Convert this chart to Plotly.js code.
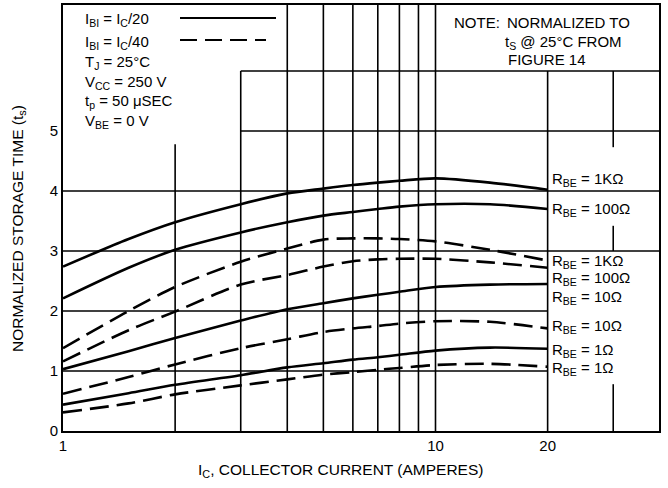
<!DOCTYPE html>
<html><head><meta charset="utf-8">
<script src="https://cdn.plot.ly/plotly-3.0.1.min.js"></script>
<style>body{margin:0;background:#fff}</style>
</head><body><div id="chart" style="width:668px;height:488px"></div>
<script>
// Collector current (A)
const currentA = [1, 1.5, 2, 3, 4, 5, 6, 7, 8, 10, 14, 20];
// Normalized storage time, IB1 = IC/20 (solid)
const ts_ib20_1k  = [2.74, 3.20, 3.48, 3.78, 3.96, 4.04, 4.10, 4.14, 4.17, 4.21, 4.14, 4.02];
const ts_ib20_100 = [2.21, 2.72, 3.02, 3.31, 3.48, 3.59, 3.65, 3.70, 3.74, 3.78, 3.78, 3.70];
const ts_ib20_10  = [1.03, 1.33, 1.55, 1.84, 2.03, 2.13, 2.21, 2.27, 2.32, 2.40, 2.44, 2.45];
const ts_ib20_1   = [0.44, 0.63, 0.77, 0.93, 1.06, 1.13, 1.19, 1.23, 1.27, 1.34, 1.39, 1.37];
// Normalized storage time, IB1 = IC/40 (dashed)
const ts_ib40_1k  = [1.38, 2.00, 2.40, 2.82, 3.04, 3.19, 3.21, 3.21, 3.20, 3.16, 3.02, 2.84];
const ts_ib40_100 = [1.16, 1.68, 1.99, 2.44, 2.60, 2.74, 2.83, 2.86, 2.87, 2.87, 2.81, 2.72];
const ts_ib40_10  = [0.62, 0.90, 1.11, 1.38, 1.53, 1.65, 1.71, 1.75, 1.79, 1.83, 1.82, 1.71];
const ts_ib40_1   = [0.31, 0.46, 0.61, 0.76, 0.86, 0.94, 0.98, 1.02, 1.05, 1.10, 1.12, 1.07];

const xTickVals = [1, 10, 20];
const xTickText = ['1', '10', '20'];
const yTickVals = [0, 1, 2, 3, 4, 5];
const yTickText = ['0', '1', '2', '3', '4', '5'];

const FONT = 'Liberation Sans, Arial, sans-serif';
const L = 63, R = 9, T = 5, B = 57, W = 668, H = 488;
const PW = W - L - R, PH = H - T - B;
const px = v => (v - L) / PW;
const py = v => (H - B - v) / PH;

const solid = {color: '#000', width: 2.6, shape: 'spline', smoothing: 0.8};
const dashed = {color: '#000', width: 2.6, shape: 'spline', smoothing: 0.8, dash: '19px,8px'};
const series = [
  [ts_ib20_1k, solid], [ts_ib20_100, solid], [ts_ib20_10, solid], [ts_ib20_1, solid],
  [ts_ib40_1k, dashed], [ts_ib40_100, dashed], [ts_ib40_10, dashed], [ts_ib40_1, dashed]
];
const traces = series.map(([y, line]) => ({
  x: currentA, y: y, type: 'scatter', mode: 'lines', line: line,
  showlegend: false, hoverinfo: 'skip'
}));

const gl = {color: '#000', width: 1.6};
const shapes = [];
function vline(x, y0, y1) { shapes.push({type: 'line', xref: 'x', yref: 'y', x0: x, x1: x, y0: y0, y1: y1, line: gl, layer: 'below'}); }
function hline(y, x0, x1) { shapes.push({type: 'line', xref: 'x', yref: 'y', x0: x0, x1: x1, y0: y, y1: y, line: gl, layer: 'below'}); }
vline(2, 0, 4.78);
vline(3, 0, 6);
[4, 5, 6, 7, 8, 9, 10].forEach(v => vline(v, 0, 7.1));
vline(20, 0, 6);
vline(30, 0, 0.78); vline(30, 3, 3.42); vline(30, 4.73, 6);
hline(1, 1, 20); hline(2, 1, 20);
hline(3, 1, 40); hline(4, 1, 40);
hline(5, 3, 40); hline(6, 3, 40);
// legend sample lines
shapes.push({type: 'line', xref: 'paper', yref: 'paper', x0: px(180), x1: px(276), y0: py(18), y1: py(18), line: {color: '#000', width: 1.8}});
shapes.push({type: 'line', xref: 'paper', yref: 'paper', x0: px(180), x1: px(266), y0: py(40), y1: py(40), line: {color: '#000', width: 1.8, dash: '17px,8px'}});

const tf = {family: FONT, size: 15, color: '#000'};
function ann(text, x, y, extra) {
  return Object.assign({xref: 'paper', yref: 'paper', x: px(x), y: py(y), text: text, showarrow: false,
    xanchor: 'left', yanchor: 'middle', font: tf}, extra || {});
}
const titleFont = {family: FONT, size: 15.5, color: '#000'};
const annotations = [
  ann('I<sub>BI</sub> = I<sub>C</sub>/20', 83, 20),
  ann('I<sub>BI</sub> = I<sub>C</sub>/40', 83, 42),
  ann('T<sub>J</sub> = 25°C', 83, 62),
  ann('V<sub>CC</sub> = 250 V', 83, 82),
  ann('t<sub>p</sub> = 50 μSEC', 83, 102),
  ann('V<sub>BE</sub> = 0 V', 83, 122),
  ann('NOTE:', 452, 22),
  ann('NORMALIZED TO', 505, 22),
  ann('t<sub>S</sub> @ 25°C FROM', 503, 42),
  ann('FIGURE 14', 506, 60),
  ann('R<sub>BE</sub> = 1KΩ', 550, 179),
  ann('R<sub>BE</sub> = 100Ω', 550, 209),
  ann('R<sub>BE</sub> = 1KΩ', 550, 261),
  ann('R<sub>BE</sub> = 100Ω', 550, 278),
  ann('R<sub>BE</sub> = 10Ω', 550, 297),
  ann('R<sub>BE</sub> = 10Ω', 550, 326),
  ann('R<sub>BE</sub> = 1Ω', 550, 350),
  ann('R<sub>BE</sub> = 1Ω', 550, 368),
  ann('I<sub>C</sub>, COLLECTOR CURRENT (AMPERES)', 340, 470, {xanchor: 'center', font: titleFont}),
  ann('NORMALIZED STORAGE TIME (t<sub>s</sub>)', 18, 229, {xanchor: 'center', textangle: -90, font: titleFont})
];

const layout = {
  width: W, height: H,
  margin: {l: L, r: R, t: T, b: B},
  paper_bgcolor: '#fff', plot_bgcolor: '#fff',
  font: tf,
  xaxis: {type: 'log', range: [0, 1.6], showgrid: false, zeroline: false,
    showline: true, mirror: true, linecolor: '#000', linewidth: 2,
    tickvals: xTickVals, ticktext: xTickText, ticks: '', tickfont: tf},
  yaxis: {range: [0, 7.1], showgrid: false, zeroline: false,
    showline: true, mirror: true, linecolor: '#000', linewidth: 2,
    tickvals: yTickVals, ticktext: yTickText, ticks: '', tickfont: tf},
  shapes: shapes,
  annotations: annotations
};
Plotly.newPlot('chart', traces, layout, {staticPlot: true, displayModeBar: false});
</script></body></html>
